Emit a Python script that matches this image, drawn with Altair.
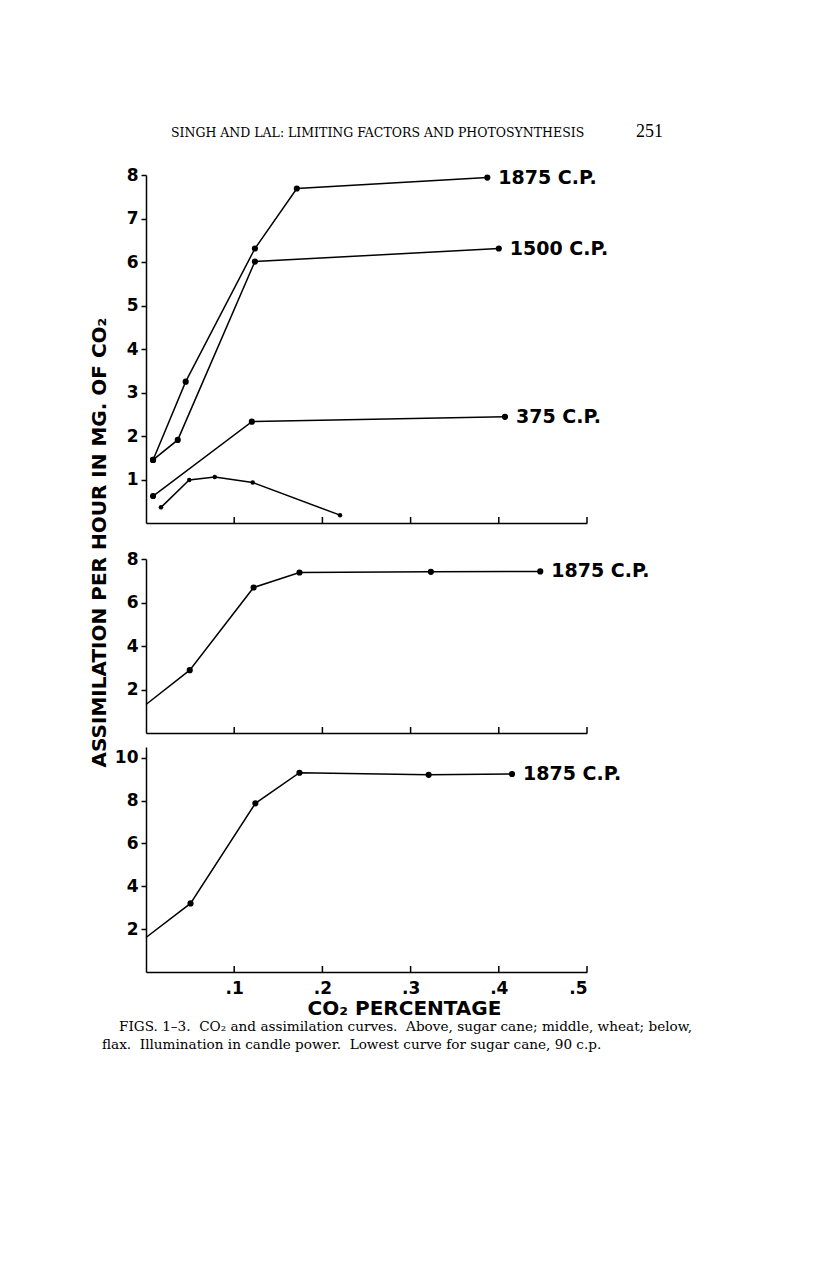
import altair as alt
import pandas as pd

# ---------------- text ----------------
header_text = ["SINGH AND LAL: LIMITING FACTORS AND PHOTOSYNTHESIS"]
page_number = ["251"]
caption_line1 = ["FIGS. 1\u20133.\u00a0 CO\u2082 and assimilation curves.\u00a0 Above, sugar cane; middle, wheat; below,"]
caption_line2 = ["flax.\u00a0 Illumination in candle power.\u00a0 Lowest curve for sugar cane, 90 c.p."]
y_title = "ASSIMILATION PER HOUR IN MG. OF CO\u2082"
x_title = "CO\u2082 PERCENTAGE"

# ---------------- data ----------------
# Fig. 1 sugar cane
sugar_series = ["1875 C.P.", "1500 C.P.", "375 C.P.", "90 c.p."]
sugar_1875_co2 = [0.008, 0.045, 0.1235, 0.171, 0.387]
sugar_1875_rate = [1.45, 3.25, 6.31, 7.69, 7.94]
sugar_1500_co2 = [0.008, 0.036, 0.1235, 0.400]
sugar_1500_rate = [1.45, 1.91, 6.01, 6.31]
sugar_375_co2 = [0.008, 0.120, 0.407]
sugar_375_rate = [0.62, 2.33, 2.44]
sugar_90_co2 = [0.017, 0.049, 0.078, 0.121, 0.220]
sugar_90_rate = [0.36, 0.99, 1.06, 0.93, 0.18]
sugar_labelled = ["1875 C.P.", "1500 C.P.", "375 C.P."]

# Fig. 2 wheat
wheat_series = ["1875 C.P."]
wheat_co2 = [0.0, 0.0496, 0.122, 0.174, 0.323, 0.447]
wheat_rate = [1.31, 2.89, 6.69, 7.38, 7.41, 7.43]
wheat_dot = [False, True, True, True, True, True]

# Fig. 3 flax
flax_series = ["1875 C.P."]
flax_co2 = [0.0, 0.0505, 0.124, 0.174, 0.3205, 0.415]
flax_rate = [1.61, 3.20, 7.87, 9.30, 9.20, 9.24]
flax_dot = [False, True, True, True, True, True]

# axes
x_tick_values = [0.1, 0.2, 0.3, 0.4, 0.5]
x_tick_labels = [".1", ".2", ".3", ".4", ".5"]
sugar_y_ticks = [1, 2, 3, 4, 5, 6, 7, 8]
wheat_y_ticks = [2, 4, 6, 8]
flax_y_ticks = [2, 4, 6, 8, 10]
sugar_y_max = 8
wheat_y_max = 8
flax_y_max = 10.5


def make_df(series, xs, ys, dots=None):
    if dots is None:
        dots = [True] * len(xs)
    return pd.DataFrame({
        "series": [series] * len(xs),
        "idx": list(range(len(xs))),
        "co2": xs,
        "rate": ys,
        "dot": dots,
    })


sugar_df = pd.concat([
    make_df(sugar_series[0], sugar_1875_co2, sugar_1875_rate),
    make_df(sugar_series[1], sugar_1500_co2, sugar_1500_rate),
    make_df(sugar_series[2], sugar_375_co2, sugar_375_rate),
    make_df(sugar_series[3], sugar_90_co2, sugar_90_rate),
], ignore_index=True)
wheat_df = make_df(wheat_series[0], wheat_co2, wheat_rate, wheat_dot)
flax_df = make_df(flax_series[0], flax_co2, flax_rate, flax_dot)


def last_points(df, names):
    rows = []
    for name in names:
        g = df[df["series"] == name]
        rows.append(g.loc[g["idx"].idxmax()])
    return pd.DataFrame(rows).reset_index(drop=True)


label_expr = "[" + ",".join("'%s'" % t for t in x_tick_labels) + "][round(datum.value*10)-1]"

PLOT_W = 441
SANS = "DejaVu Sans"
SERIF = "DejaVu Serif"


def make_panel(df, labels_df, y_max, y_ticks, height, bottom=False, with_ytitle=False,
               extra_layers=()):
    x_axis_kw = dict(values=x_tick_values, ticks=False, labels=bottom, grid=False)
    if bottom:
        x_axis_kw.update(labelExpr=label_expr, labelPadding=8, title=x_title,
                         titlePadding=2, titleFontSize=20, titleFont=SANS,
                         titleFontWeight="bold", titleColor="black",
                         titleX=258, titleAlign="center")
    else:
        x_axis_kw.update(title="")
    y_axis_kw = dict(values=y_ticks, tickSize=5, labelPadding=3, grid=False)
    if with_ytitle:
        y_axis_kw.update(title=y_title, titleFont=SANS, titleFontSize=20,
                         titleFontWeight="bold", titleColor="black",
                         titleAngle=270, titleX=-47, titleY=-17,
                         titleAlign="center", titleBaseline="middle")
    else:
        y_axis_kw.update(title="")

    xenc = alt.X("co2:Q", scale=alt.Scale(domain=[0, 0.5], nice=False, zero=False),
                 axis=alt.Axis(**x_axis_kw))
    yenc = alt.Y("rate:Q", scale=alt.Scale(domain=[0, y_max], nice=False, zero=False),
                 axis=alt.Axis(**y_axis_kw))

    lines = alt.Chart(df).mark_line(color="black", strokeWidth=1.5).encode(
        x=xenc, y=yenc, detail="series:N", order="idx:Q")
    ticks = alt.Chart(pd.DataFrame({"co2": x_tick_values})).mark_rule(
        color="black", strokeWidth=1.5).encode(
        x=xenc, y=alt.value(height - 6), y2=alt.value(height))
    pts = alt.Chart(df[df["dot"]]).mark_circle(color="black", opacity=1).encode(
        x=xenc, y=yenc,
        size=alt.condition(alt.datum.series == "90 c.p.", alt.value(20), alt.value(38)))
    labs = alt.Chart(labels_df).mark_text(
        align="left", baseline="middle", dx=11, font=SANS, fontWeight="bold",
        fontSize=19, color="black").encode(x=xenc, y=yenc, text="series:N")
    return alt.layer(lines, ticks, pts, labs, *extra_layers).properties(
        width=PLOT_W, height=height)


header = alt.Chart(pd.DataFrame({"t": header_text})).mark_text(
    align="left", baseline="alphabetic", font=SERIF, fontSize=12.5, color="black").encode(
    x=alt.value(25), y=alt.value(-38), text="t:N")
pnum = alt.Chart(pd.DataFrame({"t": page_number})).mark_text(
    align="left", baseline="alphabetic", font="Liberation Serif", fontSize=18,
    color="black").encode(x=alt.value(490), y=alt.value(-38), text="t:N")

cap1 = alt.Chart(pd.DataFrame({"t": caption_line1})).mark_text(
    align="left", baseline="alphabetic", font=SERIF, fontSize=13.6, color="black").encode(
    x=alt.value(-27), y=alt.value(284), text="t:N")
cap2 = alt.Chart(pd.DataFrame({"t": caption_line2})).mark_text(
    align="left", baseline="alphabetic", font=SERIF, fontSize=13.6, color="black").encode(
    x=alt.value(-44), y=alt.value(302), text="t:N")

top = make_panel(sugar_df, last_points(sugar_df, sugar_labelled), sugar_y_max,
                 sugar_y_ticks, 348, extra_layers=(header, pnum))
mid = make_panel(wheat_df, last_points(wheat_df, wheat_series), wheat_y_max,
                 wheat_y_ticks, 174, with_ytitle=True)
bot = make_panel(flax_df, last_points(flax_df, flax_series), flax_y_max,
                 flax_y_ticks, 225, bottom=True, extra_layers=(cap1, cap2))

# invisible spacer so that the gap above the wheat panel is wider
spacer = alt.Chart(pd.DataFrame({"t": [""]})).mark_text(opacity=0).encode(
    text="t:N").properties(width=PLOT_W, height=8)

chart = alt.vconcat(top, spacer, mid, bot, spacing=14, bounds="flush").properties(
    padding={"left": 80, "top": 115, "right": 5, "bottom": 5},
    autosize=alt.AutoSizeParams(type="pad"),
    background="white",
).configure_view(stroke=None).configure_axis(
    domainColor="black", domainWidth=1.5, tickColor="black", tickWidth=1.5,
    labelFont=SANS, labelFontWeight="bold", labelFontSize=17, labelColor="black",
)

chart.save("out.html", embed_options={"renderer": "svg", "actions": False})
